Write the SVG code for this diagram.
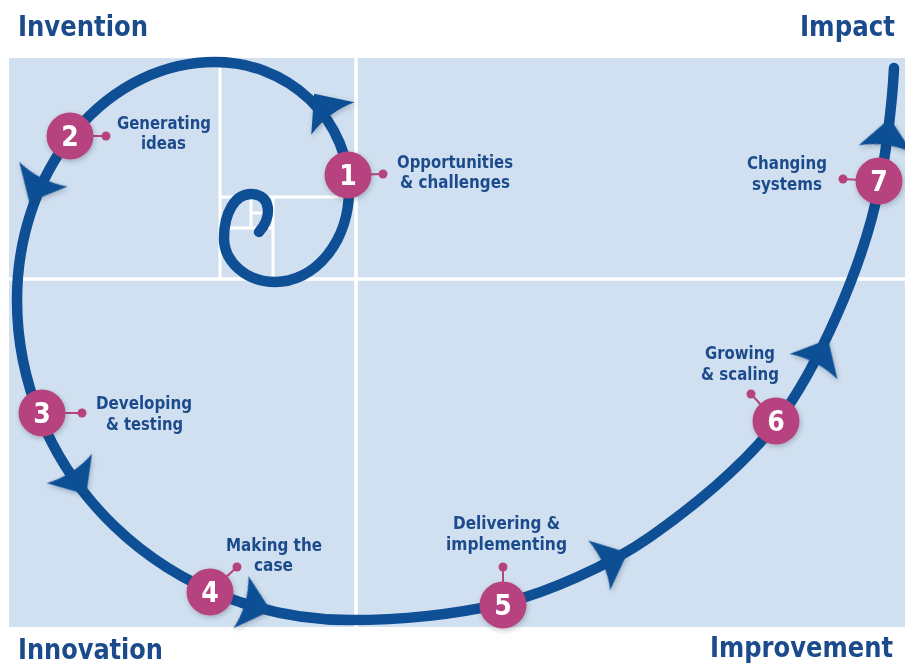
<svg xmlns="http://www.w3.org/2000/svg" width="905" height="669" viewBox="0 0 905 669">
  <defs>
    <style>
      .panel { fill: #d1e0f0; }
      .grid { stroke: #ffffff; stroke-width: 3.5; fill: none; }
      .subgrid { stroke: #ffffff; stroke-width: 3; fill: none; }
      .spiral { fill: none; stroke: #0e4f95; stroke-width: 10.5; stroke-linecap: round; stroke-linejoin: round; }
      .head { fill: #0e4f95; }
      .step { fill: #b6437f; }
      .tick { stroke: #b6437f; stroke-width: 2; }
      .num { font-family: "Liberation Sans Narrow", "DejaVu Sans Condensed", "Liberation Sans", sans-serif; font-weight: bold; font-size: 28px; fill: #ffffff; text-anchor: middle; }
      .label { font-family: "Liberation Sans Narrow", "DejaVu Sans Condensed", "Liberation Sans", sans-serif; font-weight: bold; font-size: 18px; fill: #1c4b8c; }
      .title { font-family: "Liberation Sans Narrow", "DejaVu Sans Condensed", "Liberation Sans", sans-serif; font-weight: bold; font-size: 29px; fill: #1c4b8c; }
      .right { text-anchor: end; }
    </style>
    <filter id="soft" x="-40%" y="-40%" width="180%" height="180%">
      <feDropShadow dx="1" dy="2" stdDeviation="2.5" flood-color="#1a2a40" flood-opacity="0.28"/>
    </filter>
    <!-- arrowhead pointing along +x, origin at the base centre -->
    <path id="arrowhead" d="M28,0 L-3,-27 Q5,0 -3,27 Z"/>
  </defs>

  <rect width="905" height="669" fill="#ffffff"/>

  <!-- background panel with golden-ratio grid -->
  <g id="panel">
    <rect class="panel" x="9" y="58" width="896" height="569"/>
    <line class="grid" x1="356" y1="58" x2="356" y2="627"/>
    <line class="grid" x1="9" y1="279" x2="905" y2="279"/>
    <line class="subgrid" x1="220" y1="58" x2="220" y2="279"/>
    <line class="subgrid" x1="220" y1="197" x2="356" y2="197"/>
    <line class="subgrid" x1="273" y1="197" x2="273" y2="279"/>
    <line class="subgrid" x1="220" y1="228" x2="273" y2="228"/>
    <line class="subgrid" x1="251" y1="197" x2="251" y2="228"/>
    <line class="subgrid" x1="251" y1="213" x2="273" y2="213"/>
  </g>

  <!-- spiral connector with direction arrows -->
  <g id="connectors">
    <path class="spiral" d="M259,232 C272,218 272,194 251,194 C235,194 224,213 224,238 A51,44 0 0 0 275,282 A74,92 0 0 0 349,190 A134,128 0 0 0 215,62 A198,238 0 0 0 17,300 A333,320 0 0 0 350,620 C400,620 455,614 500,604 C545,594 610,565 650,537 C690,509 745,465 777,422 C815,372 864,268 880,182 C884,164 892,110 894,68"/>
    <g class="head" filter="url(#soft)">
      <use href="#arrowhead" transform="translate(331,116) rotate(-127)"/>
      <use href="#arrowhead" transform="translate(42,177) rotate(117)"/>
      <use href="#arrowhead" transform="translate(71,471) rotate(57)"/>
      <use href="#arrowhead" transform="translate(244,603) rotate(16)"/>
      <use href="#arrowhead" transform="translate(602,564) rotate(-24)"/>
      <use href="#arrowhead" transform="translate(815,364) rotate(-62)"/>
      <use href="#arrowhead" transform="translate(886,146) rotate(-82)"/>
    </g>
  </g>

  <!-- steps -->
  <g id="step1">
    <line class="tick" x1="348" y1="175" x2="383" y2="174"/>
    <circle class="step" cx="383" cy="174" r="4.5"/>
    <circle class="step" cx="348" cy="175" r="23.5" filter="url(#soft)"/>
    <text class="num" x="348" y="185">1</text>
    <text class="label" x="397" y="168" textLength="116" lengthAdjust="spacingAndGlyphs">Opportunities</text>
    <text class="label" x="400" y="188" textLength="110" lengthAdjust="spacingAndGlyphs">&amp; challenges</text>
  </g>

  <g id="step2">
    <line class="tick" x1="70" y1="136" x2="106" y2="136"/>
    <circle class="step" cx="106" cy="136" r="4.5"/>
    <circle class="step" cx="70" cy="136" r="23.5" filter="url(#soft)"/>
    <text class="num" x="70" y="146">2</text>
    <text class="label" x="117" y="129" textLength="94" lengthAdjust="spacingAndGlyphs">Generating</text>
    <text class="label" x="141" y="149" textLength="45" lengthAdjust="spacingAndGlyphs">ideas</text>
  </g>

  <g id="step3">
    <line class="tick" x1="42" y1="413" x2="82" y2="413"/>
    <circle class="step" cx="82" cy="413" r="4.5"/>
    <circle class="step" cx="42" cy="413" r="23.5" filter="url(#soft)"/>
    <text class="num" x="42" y="423">3</text>
    <text class="label" x="96" y="409" textLength="96" lengthAdjust="spacingAndGlyphs">Developing</text>
    <text class="label" x="106" y="430" textLength="77" lengthAdjust="spacingAndGlyphs">&amp; testing</text>
  </g>

  <g id="step4">
    <line class="tick" x1="210" y1="592" x2="237" y2="567"/>
    <circle class="step" cx="237" cy="567" r="4.5"/>
    <circle class="step" cx="210" cy="592" r="23.5" filter="url(#soft)"/>
    <text class="num" x="210" y="602">4</text>
    <text class="label" x="226" y="551" textLength="96" lengthAdjust="spacingAndGlyphs">Making the</text>
    <text class="label" x="254" y="571" textLength="39" lengthAdjust="spacingAndGlyphs">case</text>
  </g>

  <g id="step5">
    <line class="tick" x1="503" y1="605" x2="503" y2="567"/>
    <circle class="step" cx="503" cy="567" r="4.5"/>
    <circle class="step" cx="503" cy="605" r="23.5" filter="url(#soft)"/>
    <text class="num" x="503" y="615">5</text>
    <text class="label" x="453" y="529" textLength="107" lengthAdjust="spacingAndGlyphs">Delivering &amp;</text>
    <text class="label" x="446" y="550" textLength="121" lengthAdjust="spacingAndGlyphs">implementing</text>
  </g>

  <g id="step6">
    <line class="tick" x1="776" y1="421" x2="751" y2="394"/>
    <circle class="step" cx="751" cy="394" r="4.5"/>
    <circle class="step" cx="776" cy="421" r="23.5" filter="url(#soft)"/>
    <text class="num" x="776" y="431">6</text>
    <text class="label" x="705" y="359" textLength="70" lengthAdjust="spacingAndGlyphs">Growing</text>
    <text class="label" x="701" y="380" textLength="78" lengthAdjust="spacingAndGlyphs">&amp; scaling</text>
  </g>

  <g id="step7">
    <line class="tick" x1="879" y1="181" x2="843" y2="179"/>
    <circle class="step" cx="843" cy="179" r="4.5"/>
    <circle class="step" cx="879" cy="181" r="23.5" filter="url(#soft)"/>
    <text class="num" x="879" y="191">7</text>
    <text class="label" x="747" y="169" textLength="80" lengthAdjust="spacingAndGlyphs">Changing</text>
    <text class="label" x="752" y="190" textLength="70" lengthAdjust="spacingAndGlyphs">systems</text>
  </g>

  <!-- corner headings -->
  <g id="heading-invention"><text class="title" x="18" y="36" textLength="130" lengthAdjust="spacingAndGlyphs">Invention</text></g>
  <g id="heading-impact"><text class="title right" x="895" y="36" textLength="95" lengthAdjust="spacingAndGlyphs">Impact</text></g>
  <g id="heading-innovation"><text class="title" x="18" y="659" textLength="145" lengthAdjust="spacingAndGlyphs">Innovation</text></g>
  <g id="heading-improvement"><text class="title right" x="893" y="657" font-size="28" textLength="183" lengthAdjust="spacingAndGlyphs">Improvement</text></g>
</svg>
